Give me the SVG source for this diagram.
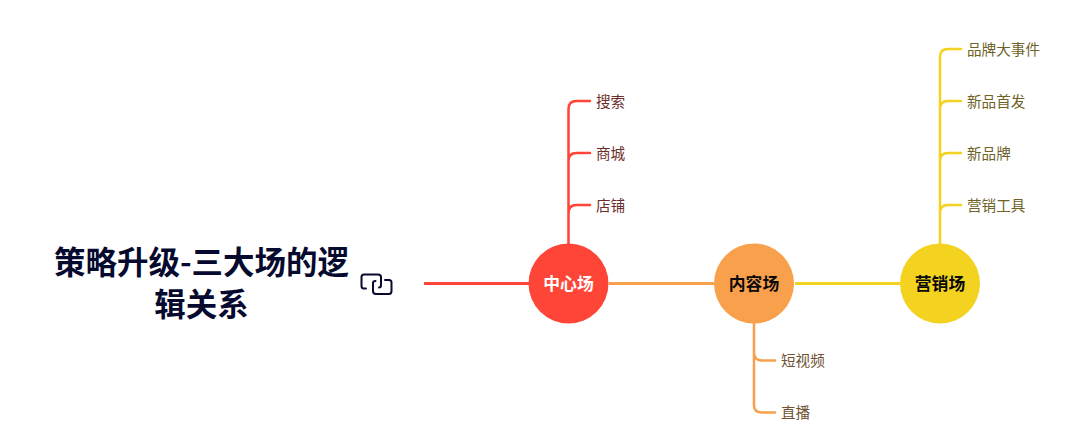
<svg xmlns="http://www.w3.org/2000/svg" width="1080" height="442" viewBox="0 0 1080 442">
<style>
text{font-family:"Noto Sans CJK SC","Noto Sans",sans-serif;text-anchor:middle}
.title{font-size:31.500px;font-weight:700;fill:#060a2e}
.hub{font-size:16.800px;font-weight:700}
.leaf{font-size:14.600px;text-anchor:start}
.ln{fill:none;stroke-width:2.500;stroke-linecap:round}
.trunk{fill:none;stroke-width:3}
</style>
<rect width="1080" height="442" fill="#fff"/>
<g id="connectors">
<path class="trunk" stroke="#ff4438" d="M424 283.500H529"/>
<path class="trunk" stroke="#f8a04c" d="M609 283.500H714"/>
<path class="trunk" stroke="#f3d320" d="M795 283.500H900"/>
<path class="ln" stroke="#ff4438" d="M568.500 244V109Q568.500 101 576.500 101H590M568.500 161Q568.500 153 576.500 153H590M568.500 213Q568.500 205 576.500 205H590"/>
<path class="ln" stroke="#f8a04c" d="M754 323V405Q754 412.500 762 412.500H775M754 352.500Q754 360.500 762 360.500H775"/>
<path class="ln" stroke="#f3d320" d="M940 244V57Q940 49 948 49H961M940 109Q940 101 948 101H961M940 161Q940 153 948 153H961M940 213Q940 205 948 205H961"/>
</g>
<g id="root">
<text class="title" x="201.500" y="273.500">策略升级-三大场的逻</text>
<text class="title" x="201.500" y="315.500">辑关系</text>
<g fill="none" stroke="#060a2e" stroke-width="2" stroke-linecap="round" stroke-linejoin="round">
<path d="M366 288.500H364Q361.500 288.500 361.500 286V277Q361.500 274.500 364 274.500H378Q381 274.500 381 277V285.500Q381 287.500 379 287.500"/>
<path d="M385 280H389Q391.500 280 391.500 282.500V291Q391.500 294 389 294H376Q373 294 373 291V283Q373 281 375.500 281"/>
</g>
</g>
<g id="hub-center">
<circle cx="568.500" cy="283.500" r="40" fill="#ff4438"/>
<text class="hub" x="568.500" y="289.500" fill="#fff">中心场</text>
</g>
<g id="hub-content">
<circle cx="754" cy="283.500" r="40" fill="#f8a04c"/>
<text class="hub" x="754" y="289.500" fill="#0a0a0a">内容场</text>
</g>
<g id="hub-marketing">
<circle cx="940" cy="283.500" r="40" fill="#f3d320"/>
<text class="hub" x="940" y="289.500" fill="#0a0a0a">营销场</text>
</g>
<g id="leaf-search"><text class="leaf" x="596" y="106.500" fill="#6b2f2b">搜索</text></g>
<g id="leaf-mall"><text class="leaf" x="596" y="158.500" fill="#6b2f2b">商城</text></g>
<g id="leaf-store"><text class="leaf" x="596" y="210.500" fill="#6b2f2b">店铺</text></g>
<g id="leaf-video"><text class="leaf" x="781" y="365.500" fill="#6e5233">短视频</text></g>
<g id="leaf-live"><text class="leaf" x="781" y="417.500" fill="#6e5233">直播</text></g>
<g id="leaf-event"><text class="leaf" x="967" y="54.500" fill="#6e6228">品牌大事件</text></g>
<g id="leaf-launch"><text class="leaf" x="967" y="106.500" fill="#6e6228">新品首发</text></g>
<g id="leaf-newbrand"><text class="leaf" x="967" y="158.500" fill="#6e6228">新品牌</text></g>
<g id="leaf-tools"><text class="leaf" x="967" y="210.500" fill="#6e6228">营销工具</text></g>
</svg>
